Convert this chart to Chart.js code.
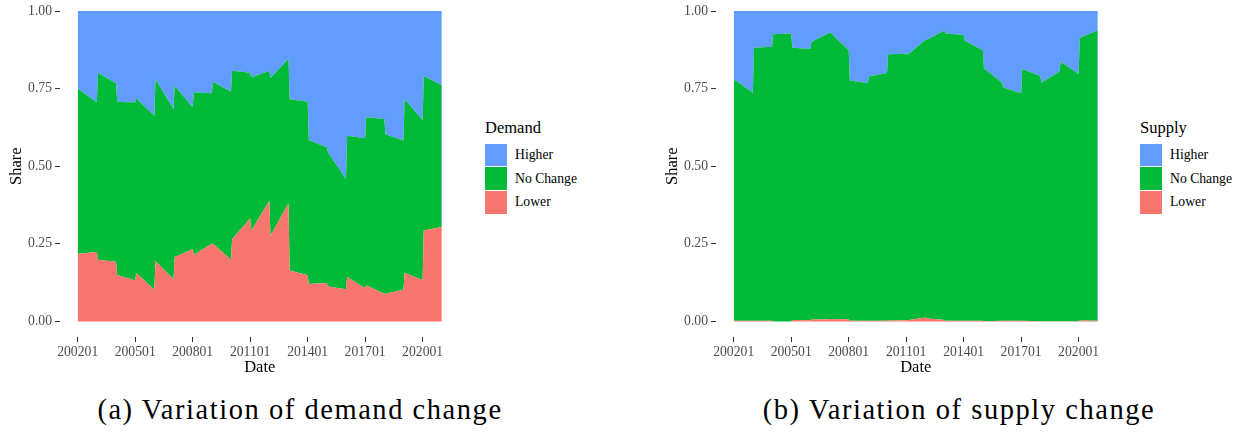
<!DOCTYPE html>
<html>
<head>
<meta charset="utf-8">
<script src="https://cdn.jsdelivr.net/npm/chart.js@4.4.1/dist/chart.umd.min.js"></script>
<style>
  body { margin: 0; background: #fff; }
  #wrap { position: relative; width: 1240px; height: 432px; overflow: hidden; background: #fff; font-family: 'Liberation Serif', 'Times New Roman', Times, serif; }
  canvas { position: absolute; top: -5px; }
  .legend { position: absolute; top: 118px; }
  .legend .ttl { font-size: 16.5px; color: #000; height: 22px; line-height: 20px; margin-bottom: 3px; }
  .legend .row { display: flex; align-items: center; height: 23.8px; }
  .legend .sw { width: 22px; height: 22.5px; margin-right: 8px; }
  .legend .lab { font-size: 13.7px; color: #000; }
  .cap { position: absolute; top: 394px; font-size: 28.5px; letter-spacing: 1.55px; color: #000; white-space: nowrap; text-align: center; width: 600px; }
</style>
</head>
<body>
<div id="wrap">
  <canvas id="demand" width="460" height="385" style="left:0px"></canvas>
  <canvas id="supply" width="460" height="385" style="left:656px"></canvas>

  <div class="legend" style="left:485px">
    <div class="ttl">Demand</div>
    <div class="row"><div class="sw" style="background:#619CFF"></div><span class="lab">Higher</span></div>
    <div class="row"><div class="sw" style="background:#00BA38"></div><span class="lab">No Change</span></div>
    <div class="row"><div class="sw" style="background:#F8766D"></div><span class="lab">Lower</span></div>
  </div>
  <div class="legend" style="left:1140px">
    <div class="ttl">Supply</div>
    <div class="row"><div class="sw" style="background:#619CFF"></div><span class="lab">Higher</span></div>
    <div class="row"><div class="sw" style="background:#00BA38"></div><span class="lab">No Change</span></div>
    <div class="row"><div class="sw" style="background:#F8766D"></div><span class="lab">Lower</span></div>
  </div>

  <div class="cap" style="left:0px">(a) Variation of demand change</div>
  <div class="cap" style="left:659px">(b) Variation of supply change</div>
</div>

<script>
// survey dates (yyyymm as a number, two waves per year)
const dates = [
  200201, 200207, 200301, 200307, 200401, 200407, 200501, 200507, 200601, 200607,
  200701, 200707, 200801, 200807, 200901, 200907, 201001, 201007, 201101, 201107,
  201201, 201207, 201301, 201307, 201401, 201407, 201501, 201507, 201601, 201607,
  201701, 201707, 201801, 201807, 201901, 201907, 202001, 202007, 202101
];
const xTicks = [200201, 200501, 200801, 201101, 201401, 201701, 202001];
const yTicks = [0, 0.25, 0.5, 0.75, 1];

// Demand shares
const demandLower = [
  0.218, 0.218, 0.224, 0.199, 0.192, 0.150, 0.132, 0.156, 0.102, 0.194,
  0.136, 0.208, 0.233, 0.215, 0.250, 0.250, 0.199, 0.266, 0.332, 0.292,
  0.389, 0.276, 0.381, 0.164, 0.149, 0.121, 0.124, 0.113, 0.104, 0.143,
  0.107, 0.117, 0.089, 0.089, 0.102, 0.156, 0.134, 0.293, 0.304
];
const demandNoChange = [
  0.530, 0.530, 0.481, 0.601, 0.575, 0.558, 0.573, 0.562, 0.561, 0.586,
  0.548, 0.551, 0.457, 0.523, 0.485, 0.522, 0.541, 0.542, 0.469, 0.495,
  0.418, 0.508, 0.465, 0.552, 0.559, 0.463, 0.437, 0.431, 0.355, 0.455,
  0.483, 0.541, 0.563, 0.514, 0.481, 0.560, 0.515, 0.498, 0.457
];
const demandHigher = [
  0.252, 0.252, 0.295, 0.200, 0.233, 0.292, 0.295, 0.282, 0.337, 0.220,
  0.316, 0.241, 0.310, 0.262, 0.265, 0.228, 0.260, 0.192, 0.199, 0.213,
  0.193, 0.216, 0.154, 0.284, 0.292, 0.416, 0.439, 0.456, 0.541, 0.402,
  0.410, 0.342, 0.348, 0.397, 0.417, 0.284, 0.351, 0.209, 0.239
];

// Supply shares
const supplyLower = [
  0.002, 0.002, 0.002, 0.002, 0.002, 0.000, 0.000, 0.005, 0.004, 0.006,
  0.007, 0.008, 0.007, 0.002, 0.002, 0.002, 0.002, 0.003, 0.004, 0.004,
  0.013, 0.010, 0.005, 0.002, 0.002, 0.002, 0.002, 0.001, 0.002, 0.002,
  0.002, 0.002, 0.001, 0.001, 0.001, 0.001, 0.001, 0.003, 0.002
];
const supplyNoChange = [
  0.776, 0.776, 0.735, 0.880, 0.883, 0.925, 0.928, 0.877, 0.874, 0.895,
  0.923, 0.922, 0.867, 0.774, 0.765, 0.787, 0.798, 0.858, 0.858, 0.854,
  0.894, 0.897, 0.932, 0.926, 0.921, 0.902, 0.872, 0.815, 0.767, 0.752,
  0.733, 0.811, 0.790, 0.768, 0.804, 0.836, 0.796, 0.911, 0.935
];
const supplyHigher = [
  0.222, 0.222, 0.263, 0.118, 0.115, 0.075, 0.072, 0.118, 0.122, 0.099,
  0.070, 0.070, 0.126, 0.224, 0.233, 0.211, 0.200, 0.139, 0.138, 0.142,
  0.093, 0.093, 0.063, 0.072, 0.077, 0.096, 0.126, 0.184, 0.231, 0.246,
  0.265, 0.187, 0.209, 0.231, 0.195, 0.163, 0.203, 0.086, 0.063
];

const colors = { lower: '#F8766D', noChange: '#00BA38', higher: '#619CFF' };
const font = "'Liberation Serif', 'Times New Roman', Times, serif";

function pts(vals) {
  return dates.map((d, i) => ({ x: d, y: vals[i] }));
}

function areaSet(label, vals, color, fill) {
  return { label, data: pts(vals), backgroundColor: color, borderColor: color, borderWidth: 0, pointRadius: 0, fill, tension: 0 };
}

function makeChart(id, lower, noChange, higher) {
  // ggplot-like 5% expansion on both axes
  const pad = (dates[dates.length - 1] - dates[0]) * 0.05;
  new Chart(document.getElementById(id), {
    type: 'line',
    data: {
      datasets: [
        areaSet('Lower', lower, colors.lower, 'origin'),
        areaSet('No Change', noChange, colors.noChange, '-1'),
        areaSet('Higher', higher, colors.higher, '-1')
      ]
    },
    options: {
      responsive: false,
      animation: false,
      layout: { padding: { top: 0.5, left: 0, right: 0, bottom: 0 } },
      plugins: { legend: { display: false }, tooltip: { enabled: false } },
      scales: {
        x: {
          type: 'linear',
          min: dates[0] - pad,
          max: dates[dates.length - 1] + pad,
          afterBuildTicks: s => { s.ticks = xTicks.map(v => ({ value: v })); },
          afterFit: s => { s.height = 43; s.paddingLeft = 0; s.paddingRight = 0; },
          ticks: { color: '#4d4d4d', font: { family: font, size: 13.7 }, padding: 2, maxRotation: 0, autoSkip: false, callback: v => String(v) },
          grid: { drawOnChartArea: false, drawTicks: true, tickLength: 5, tickColor: '#333', tickWidth: 1 },
          border: { display: false },
          title: { display: true, text: 'Date', color: '#000', font: { family: font, size: 16.5 }, padding: { top: 0, bottom: 2 } }
        },
        y: {
          stacked: true,
          min: -0.05,
          max: 1.05,
          afterBuildTicks: s => { s.ticks = yTicks.map(v => ({ value: v })); },
          afterFit: s => { s.width = 59.5; s.paddingTop = 0; s.paddingBottom = 0; },
          ticks: { color: '#4d4d4d', font: { family: font, size: 13.7 }, padding: 3, callback: v => v.toFixed(2) },
          grid: { drawOnChartArea: false, drawTicks: true, tickLength: 4.5, tickColor: '#333', tickWidth: 1 },
          border: { display: false },
          title: { display: true, text: 'Share', color: '#000', font: { family: font, size: 16.5 }, padding: { top: 7, bottom: 0 } }
        }
      }
    }
  });
}

makeChart('demand', demandLower, demandNoChange, demandHigher);
makeChart('supply', supplyLower, supplyNoChange, supplyHigher);
</script>
</body>
</html>
